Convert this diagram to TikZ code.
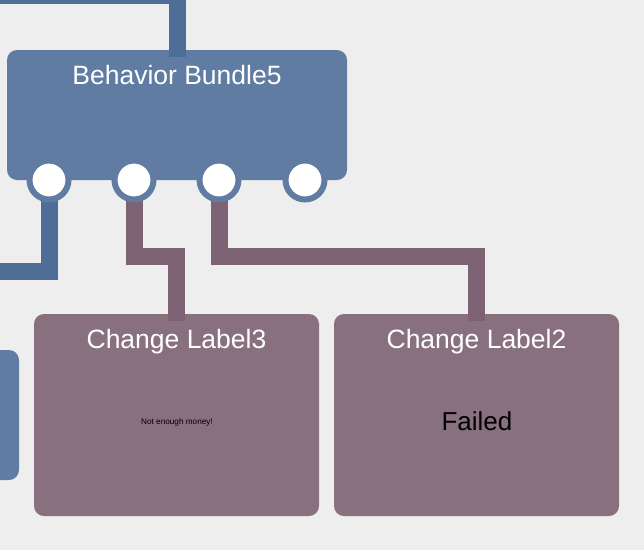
\documentclass[tikz,border=0pt]{standalone}
\usepackage{fontspec}
\setmainfont{Liberation Sans}
\definecolor{bgc}{HTML}{EEEEEE}
\definecolor{bluebox}{HTML}{607CA2}
\definecolor{blueline}{HTML}{4F6E97}
\definecolor{purplebox}{HTML}{88707F}
\definecolor{purpleline}{HTML}{7D6273}
\tikzset{
  boxstyle/.style={rounded corners=10pt, inner sep=0pt},
  bluebx/.style={boxstyle, fill=bluebox},
  purplebx/.style={boxstyle, fill=purplebox},
  titletext/.style={text=white, anchor=base, inner sep=0pt, font=\fontsize{26.5}{30}\selectfont},
  bodytext/.style={text=black, anchor=base, inner sep=0pt},
  bconn/.style={draw=blueline, line width=17pt, line cap=butt, line join=miter},
  pconn/.style={draw=purpleline, line width=17pt, line cap=butt, line join=miter},
  port/.style={circle, fill=white, draw=bluebox, line width=6pt, minimum size=39pt, inner sep=0pt},
}
\begin{document}
\begin{tikzpicture}[x=1pt,y=-1pt]
\useasboundingbox (0,0) rectangle (644,550);
\clip (0,0) rectangle (644,550);
\fill[bgc] (0,0) rectangle (644,550);
% boxes
\node[bluebx, minimum width=340pt, minimum height=130pt] (bb) at (177,115) {};
\node[purplebx, minimum width=285pt, minimum height=202pt] (cl3) at (176.5,415) {};
\node[purplebx, minimum width=285pt, minimum height=202pt] (cl2) at (476.5,415) {};
\node[bluebx, minimum width=39pt, minimum height=130pt] (lb) at (-0.5,415) {};
% texts
\node[titletext] (bbt) at (177,84) {Behavior Bundle5};
\node[titletext] (cl3t) at (176.5,348.5) {Change Label3};
\node[titletext] (cl2t) at (476.5,348.5) {Change Label2};
\node[bodytext, font=\fontsize{8.2}{10}\selectfont] (nem) at (177,424) {Not enough money!};
\node[bodytext, font=\fontsize{26}{30}\selectfont] (fail) at (477,430) {Failed};
% port positions
\coordinate (p1c) at (49,180);
\coordinate (p2c) at (134,180);
\coordinate (p3c) at (219,180);
\coordinate (p4c) at (305,180);
% connectors
\coordinate (topin) at (-10,-4.5);
\coordinate (leftout) at (-10,271);
\coordinate (mid) at (0,256);
\draw[bconn] (topin) -| ([yshift=-7pt]bb.north);
\draw[bconn] (p1c) |- (leftout);
\draw[pconn] (p2c) |- (mid -| cl3.north) -- ([yshift=-7pt]cl3.north);
\draw[pconn] (p3c) |- (mid -| cl2.north) -- ([yshift=-7pt]cl2.north);
% ports
\node[port] (p1) at (p1c) {};
\node[port] (p2) at (p2c) {};
\node[port] (p3) at (p3c) {};
\node[port] (p4) at (p4c) {};
\end{tikzpicture}
\end{document}
